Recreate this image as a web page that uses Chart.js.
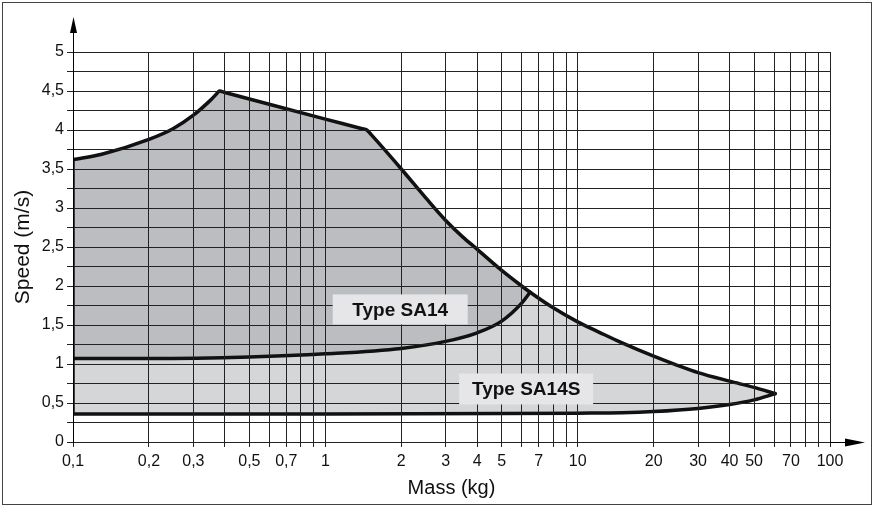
<!DOCTYPE html>
<html>
<head>
<meta charset="utf-8">
<title>Speed vs Mass - SA14 / SA14S</title>
<script src="https://cdn.jsdelivr.net/npm/chart.js@4/dist/chart.umd.min.js"></script>
<style>
  html, body { margin: 0; padding: 0; background: #fff; }
  #wrap { width: 875px; height: 508px; }
</style>
</head>
<body>
<div id="wrap"><canvas id="grafico" width="875" height="508"></canvas></div>
<script>
// Grid values and tick labels
const massGrid = [0.1, 0.2, 0.3, 0.4, 0.5, 0.6, 0.7, 0.8, 0.9,
                  1, 2, 3, 4, 5, 6, 7, 8, 9,
                  10, 20, 30, 40, 50, 60, 70, 80, 90, 100];
const massLabels = [0.1, 0.2, 0.3, 0.5, 0.7, 1, 2, 3, 4, 5, 7, 10, 20, 30, 40, 50, 70, 100];
const speedGrid = [0, 0.25, 0.5, 0.75, 1, 1.25, 1.5, 1.75, 2, 2.25, 2.5, 2.75,
                   3, 3.25, 3.5, 3.75, 4, 4.25, 4.5, 4.75, 5];
const speedLabels = [0, 0.5, 1, 1.5, 2, 2.5, 3, 3.5, 4, 4.5, 5];

// Upper envelope (SA14 top, then SA14S top after the crossing at ~6,5 kg)
const envelopeMass = [0.1, 0.13, 0.2, 0.25, 0.3, 0.35, 0.37, 0.38, 0.4, 1, 1.4, 1.46, 1.52,
                      2, 2.5, 3, 3.5, 4, 5, 6, 6.48,
                      8, 10, 12.3, 15, 20, 25, 30, 40, 50, 60.6];
const envelopeSpeed = [3.62, 3.69, 3.88, 4.02, 4.19, 4.38, 4.46, 4.5, 4.481, 4.14, 4.016, 4.0, 3.94,
                       3.5, 3.13, 2.84, 2.63, 2.47, 2.2, 2.0, 1.92,
                       1.72, 1.54, 1.4, 1.27, 1.1, 0.98, 0.89, 0.78, 0.7, 0.62];
const crossingMass = 6.48;

// Lower limit of Type SA14 (border with SA14S)
const sa14LowMass = [0.1, 0.2, 0.5, 1, 2, 3, 4, 5, 6, 6.48];
const sa14LowSpeed = [1.07, 1.07, 1.09, 1.13, 1.2, 1.29, 1.4, 1.55, 1.78, 1.92];

// Bottom limit of Type SA14S
const bottomMass = [0.1, 1, 5, 10, 15, 20, 30, 40, 50, 60.6];
const bottomSpeed = [0.36, 0.36, 0.365, 0.37, 0.375, 0.39, 0.43, 0.48, 0.54, 0.62];

// Left edge at 0,1 kg
const edgeMass = [0.1, 0.1];
const edgeSpeed = [0.36, 3.62];

// Region labels (centre in data coords)
const regionLabels = [
    { text: 'Type SA14', x: 1.98, y: 1.70, w: 135, h: 30 },
    { text: 'Type SA14S', x: 6.25, y: 0.68, w: 134, h: 31 }
];

const corDeVolta = '#111';
const cinzaEscuro = '#bcbdc1';
const cinzaClaro = '#d5d6d8';
const fonteBase = '"Liberation Sans", Arial, Helvetica, sans-serif';

function pontos(xs, ys) {
    return xs.map((x, i) => ({ x: x, y: ys[i] }));
}

function fmt(v) {
    return String(v).replace('.', ',');
}

function serie(data, fill, cor, monotone, traco) {
    return {
        data: data,
        borderColor: traco === false ? 'rgba(0,0,0,0)' : corDeVolta,
        borderWidth: 3.5,
        borderCapStyle: 'round',
        borderJoinStyle: 'round',
        pointRadius: 0,
        fill: fill,
        backgroundColor: cor || 'rgba(0,0,0,0)',
        cubicInterpolationMode: monotone ? 'monotone' : 'default',
        tension: 0
    };
}

const envelope = pontos(envelopeMass, envelopeSpeed);
const envelopeSA14 = envelope.filter(p => p.x <= crossingMass);

// Arrows, label boxes and frame
const decorPlugin = {
    id: 'decor',
    afterDraw(chart) {
        const ctx = chart.ctx;
        const area = chart.chartArea;
        const sx = chart.scales.x;
        const sy = chart.scales.y;
        ctx.save();

        // axis extensions with arrowheads
        ctx.strokeStyle = '#000';
        ctx.fillStyle = '#000';
        ctx.lineWidth = 1;
        ctx.beginPath();
        ctx.moveTo(area.right, area.bottom + 0.5);
        ctx.lineTo(848, area.bottom + 0.5);
        ctx.moveTo(area.left + 0.5, area.top);
        ctx.lineTo(area.left + 0.5, 33);
        ctx.stroke();
        ctx.beginPath();
        ctx.moveTo(845, area.bottom + 0.5 - 4);
        ctx.lineTo(865, area.bottom + 0.5);
        ctx.lineTo(845, area.bottom + 0.5 + 4);
        ctx.closePath();
        ctx.fill();
        ctx.beginPath();
        ctx.moveTo(area.left + 0.5 - 3.5, 33);
        ctx.lineTo(area.left + 0.5, 17);
        ctx.lineTo(area.left + 0.5 + 3.5, 33);
        ctx.closePath();
        ctx.fill();

        // region labels
        ctx.font = 'bold 19px ' + fonteBase;
        ctx.textAlign = 'center';
        ctx.textBaseline = 'middle';
        regionLabels.forEach(l => {
            const cx = sx.getPixelForValue(l.x);
            const cy = sy.getPixelForValue(l.y);
            ctx.fillStyle = '#e6e6e8';
            ctx.fillRect(cx - l.w / 2, cy - l.h / 2, l.w, l.h);
            ctx.fillStyle = '#111';
            ctx.fillText(l.text, cx, cy + 1);
        });

        // outer frame
        ctx.strokeStyle = '#444';
        ctx.lineWidth = 1;
        ctx.strokeRect(2.5, 2.5, 869, 502);
        ctx.restore();
    }
};

Chart.defaults.font.family = fonteBase;
Chart.defaults.color = '#111';

const ctx = document.getElementById('grafico').getContext('2d');
new Chart(ctx, {
    type: 'line',
    data: {
        datasets: [
            serie(envelopeSA14, 2, cinzaEscuro, true, false),                 // 0 SA14 area
            serie(envelope, 3, cinzaClaro, true),                             // 1 envelope (SA14S area)
            serie(pontos(sa14LowMass, sa14LowSpeed), false, null, true),      // 2
            serie(pontos(bottomMass, bottomSpeed), false, null, true),        // 3
            serie(pontos(edgeMass, edgeSpeed), false, null, false)            // 4
        ]
    },
    options: {
        responsive: false,
        animation: false,
        devicePixelRatio: 1,
        layout: { padding: { left: 0, top: 52, right: 45, bottom: 0 } },
        plugins: {
            legend: { display: false },
            tooltip: { enabled: false },
            filler: { drawTime: 'beforeDatasetsDraw' }
        },
        scales: {
            x: {
                type: 'logarithmic',
                min: 0.1,
                max: 100,
                afterBuildTicks: s => { s.ticks = massGrid.map(v => ({ value: v })); },
                afterFit: s => { s.height = 66; },
                grid: { color: '#222', lineWidth: 1, tickLength: 5, z: 1 },
                border: { display: true, color: '#000', width: 1, z: 1 },
                ticks: {
                    autoSkip: false,
                    maxRotation: 0,
                    padding: 5,
                    font: { size: 16 },
                    color: '#111',
                    callback: v => massLabels.includes(v) ? fmt(v) : ''
                },
                title: {
                    display: true,
                    text: 'Mass (kg)',
                    font: { size: 20 },
                    color: '#111',
                    padding: { top: 0, bottom: 8 }
                }
            },
            y: {
                type: 'linear',
                min: 0,
                max: 5,
                afterBuildTicks: s => { s.ticks = speedGrid.map(v => ({ value: v })); },
                afterFit: s => { s.width = 73; },
                grid: { color: '#222', lineWidth: 1, tickLength: 6, z: 1 },
                border: { display: true, color: '#000', width: 1, z: 1 },
                ticks: {
                    autoSkip: false,
                    padding: 3,
                    font: { size: 16 },
                    color: '#111',
                    callback: v => speedLabels.includes(v) ? fmt(v) : ''
                },
                title: {
                    display: true,
                    text: 'Speed (m/s)',
                    font: { size: 21 },
                    color: '#111',
                    padding: { top: 11, bottom: 0 }
                }
            }
        }
    },
    plugins: [decorPlugin]
});
</script>
</body>
</html>
